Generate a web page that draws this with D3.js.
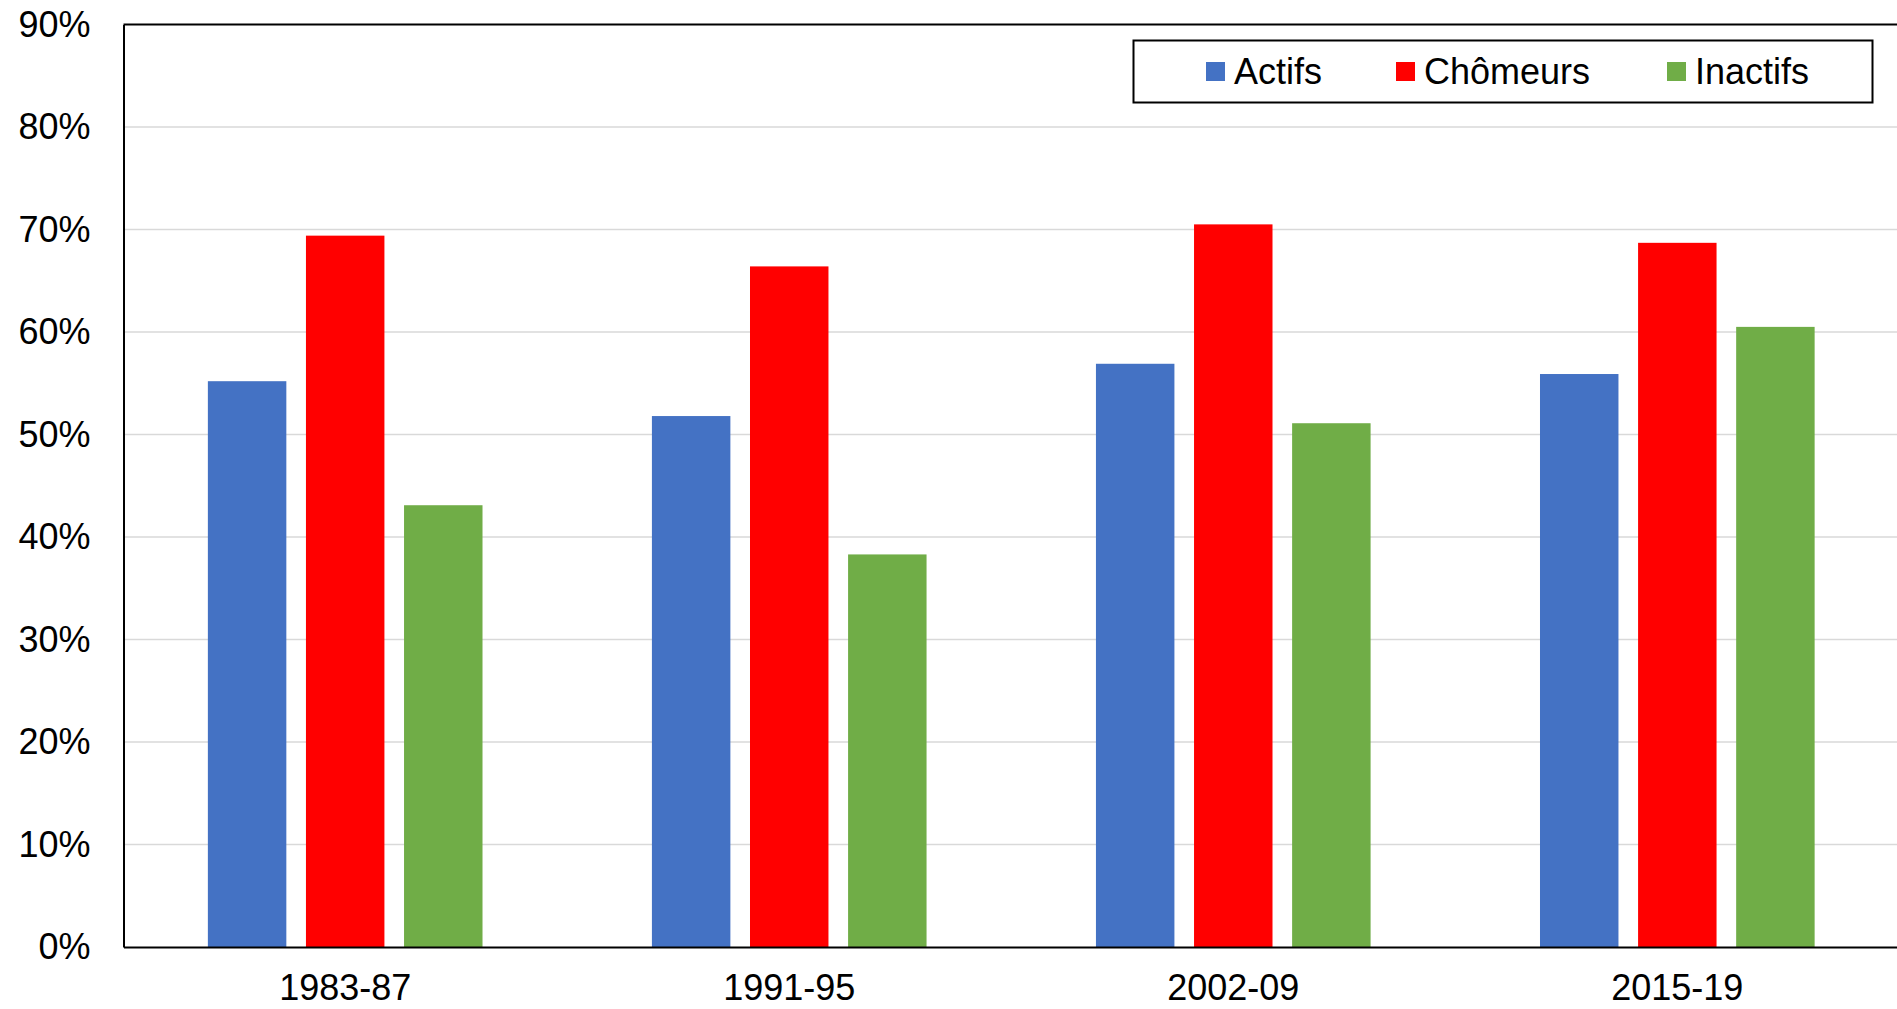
<!DOCTYPE html>
<html>
<head>
<meta charset="utf-8">
<script src="https://cdn.jsdelivr.net/npm/d3@7"></script>
<style>
  html, body { margin: 0; padding: 0; background: #fff; overflow: hidden; }
  svg { display: block; font-family: "Liberation Sans", Arial, sans-serif; }
</style>
</head>
<body>
<svg id="chart" width="1897" height="1009"></svg>
<script>
const categories = ["1983-87", "1991-95", "2002-09", "2015-19"];
const seriesNames = ["Actifs", "Chômeurs", "Inactifs"];
const actifs = [55.2, 51.8, 56.9, 55.9];
const chomeurs = [69.4, 66.4, 70.5, 68.7];
const inactifs = [43.1, 38.3, 51.1, 60.5];
const yTicks = [0, 10, 20, 30, 40, 50, 60, 70, 80, 90];
const colors = ["#4472C4", "#FF0000", "#70AD47"];

const seriesValues = [actifs, chomeurs, inactifs];

(function () {
const svg = d3.select("#chart");
const pLeft = 123.5, pRight = 1899, pTop = 24.5, pBottom = 947;

const x = d3.scaleBand().domain(categories).range([pLeft, pRight]).paddingInner(0.3815).paddingOuter(0.19);
const xs = d3.scaleBand().domain(seriesNames).range([0, x.bandwidth()]).paddingInner(0.2).paddingOuter(0);
const y = d3.scaleLinear().domain([0, 90]).range([pBottom, pTop]);

// gridlines
svg.append("g").selectAll("line").data(yTicks.filter(t => t > 0 && t < 90)).join("line")
  .attr("x1", pLeft).attr("x2", pRight)
  .attr("y1", d => y(d)).attr("y2", d => y(d))
  .attr("stroke", "#d9d9d9").attr("stroke-width", 1.5);

// bars
const rows = categories.map((c, i) => ({ cat: c, vals: seriesNames.map((s, j) => ({ s, j, v: seriesValues[j][i] })) }));
const groups = svg.append("g").selectAll("g").data(rows).join("g")
  .attr("transform", d => `translate(${x(d.cat)},0)`);
groups.selectAll("rect").data(d => d.vals).join("rect")
  .attr("x", d => xs(d.s)).attr("width", xs.bandwidth())
  .attr("y", d => y(d.v)).attr("height", d => y(0) - y(d.v))
  .attr("fill", d => colors[d.j]);

// top frame line
svg.append("line").attr("x1", pLeft).attr("x2", pRight).attr("y1", pTop).attr("y2", pTop)
  .attr("stroke", "#000").attr("stroke-width", 2);

const yAxis = d3.axisLeft(y).tickValues(yTicks).tickSize(0).tickPadding(33).tickFormat(d => d + "%");
const gy = svg.append("g").attr("transform", `translate(${pLeft},0)`).call(yAxis);
gy.select(".domain").attr("stroke", "#000").attr("stroke-width", 2);
gy.selectAll("text").attr("font-size", 36).attr("fill", "#000")
  .attr("font-family", "'Liberation Sans', Arial, sans-serif");

const xAxis = d3.axisBottom(x).tickSize(0).tickPadding(27);
const gx = svg.append("g").attr("transform", `translate(0,${pBottom})`).call(xAxis);
gx.select(".domain").attr("stroke", "#000").attr("stroke-width", 2);
gx.selectAll("text").attr("font-size", 36).attr("fill", "#000")
  .attr("font-family", "'Liberation Sans', Arial, sans-serif");

// legend
const lg = svg.append("g");
lg.append("rect").attr("x", 1133.5).attr("y", 40.5).attr("width", 739).attr("height", 62)
  .attr("fill", "#fff").attr("stroke", "#000").attr("stroke-width", 2);
const legendX = [1206, 1396, 1667];
seriesNames.forEach((s, j) => {
  lg.append("rect").attr("x", legendX[j]).attr("y", 62).attr("width", 19).attr("height", 19).attr("fill", colors[j]);
  lg.append("text").attr("x", legendX[j] + 28).attr("y", 71.5).attr("dy", "0.35em")
    .attr("font-size", 36).attr("fill", "#000").text(s);
});
})();
</script>
</body>
</html>
